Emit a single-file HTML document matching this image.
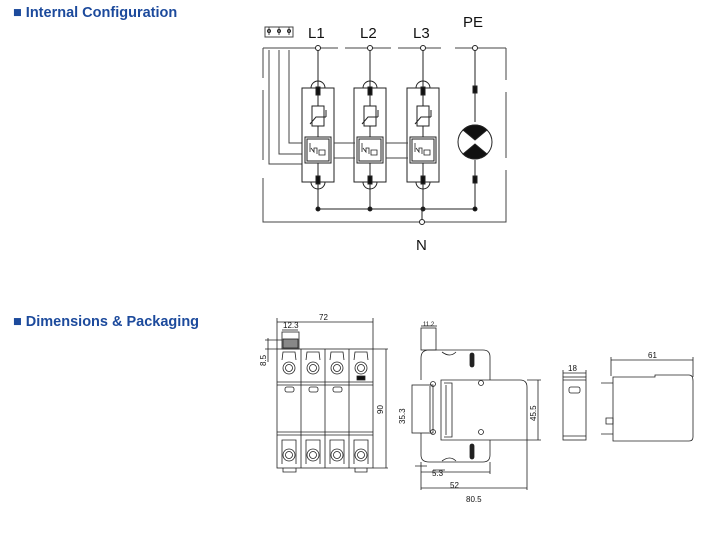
<!DOCTYPE html>
<html><head><meta charset="utf-8"><style>
html,body{margin:0;padding:0;background:#fff;}
body{width:719px;height:533px;position:relative;overflow:hidden;font-family:"Liberation Sans",sans-serif;}
.t{position:absolute;left:13px;font-weight:bold;font-size:14.5px;color:#1c4a9c;}
svg{position:absolute;left:0;top:0;}
</style></head><body>
<div class="t" style="top:5px">■ Internal Configuration</div>
<div class="t" style="top:314px">■ Dimensions &amp; Packaging</div>
<svg width="719" height="533" viewBox="0 0 719 533" fill="none" stroke="#222" stroke-width="1" font-family="Liberation Sans, sans-serif">
<g>
<text x="308" y="38" font-size="15" fill="#111" stroke="none">L1</text>
<text x="360" y="38" font-size="15" fill="#111" stroke="none">L2</text>
<text x="413" y="38" font-size="15" fill="#111" stroke="none">L3</text>
<text x="463" y="27" font-size="15" fill="#111" stroke="none">PE</text>
<text x="416" y="250" font-size="15" fill="#111" stroke="none">N</text>
<path d="M263 48H338M345 48H391M398 48H441M455 48H506" stroke="#444"/>
<path d="M263 48V78M263 90V160M263 178V222H506V170M506 158V92M506 80V48" stroke="#444"/>
<rect x="265" y="27" width="28" height="10" stroke="#444"/>
<path d="M269 50V164H302M279 50V154H305M289 50V143H305M269 35V27M279 35V27M289 35V27" stroke="#444"/>
<circle cx="269" cy="31" r="1.5"/><circle cx="279" cy="31" r="1.5"/><circle cx="289" cy="31" r="1.5"/>
<g id="m">
<path d="M318 48V88M318 182V209"/>
<circle cx="318" cy="48" r="2.5" fill="#fff"/>
<rect x="302" y="88" width="32" height="94" fill="#fff"/>
<path d="M311 88a7 7 0 0 1 14 0M311 182a7 7 0 0 0 14 0"/>
<rect x="316" y="87" width="4" height="8" fill="#111"/>
<rect x="316" y="176" width="4" height="8" fill="#111"/>
<path d="M318 95V106M318 126V137M318 163V176"/>
<rect x="312" y="106" width="12" height="20"/>
<path d="M310 124L316 117H326M326 117V110"/>
<rect x="305" y="137" width="26" height="26" fill="#fff"/>
<rect x="307" y="139" width="22" height="22"/>
<path d="M310 143V152M311 148L314 152V148H317V154M319 150H325V155H319Z" stroke-width="0.8"/>
<circle cx="318" cy="209" r="2" fill="#111"/>
</g>
<use href="#m" x="52"/>
<use href="#m" x="105"/>
<path d="M334 143H355M334 158H355M386 143H408M386 158H408" stroke="#444"/>
<path d="M318 209H475"/>
<circle cx="422" cy="222" r="2.5" fill="#fff"/>
<path d="M422 209V219"/>
<path d="M475 48V122M475 160V209"/>
<circle cx="475" cy="48" r="2.5" fill="#fff"/>
<rect x="473" y="86" width="4" height="7" fill="#111"/>
<rect x="473" y="176" width="4" height="7" fill="#111"/>
<circle cx="475" cy="142" r="17" fill="#fff"/>
<path d="M463 130L475 140L487 130A17 17 0 0 0 463 130Z" fill="#111"/>
<path d="M463 154L475 144L487 154A17 17 0 0 1 463 154Z" fill="#111"/>
<circle cx="475" cy="209" r="2" fill="#111"/>
</g>
<!-- front view -->
<g stroke-width="0.8" font-size="8">
<path d="M277 322H373M277 318V349M373 318V349"/>
<text x="319" y="320" fill="#111" stroke="none">72</text>
<path d="M282 330H298"/><text x="283" y="328" fill="#111" stroke="none">12.3</text>
<rect x="282" y="332" width="17" height="17"/>
<rect x="283" y="339" width="15" height="9" fill="#888"/>
<path d="M265 340H282M265 349H277M268 338V362"/>
<text x="266" y="366" fill="#111" stroke="none" transform="rotate(-90 266 366)">8.5</text>
<path d="M373 349H388M373 468H388M386 349V468"/>
<text x="383" y="414" fill="#111" stroke="none" transform="rotate(-90 383 414)">90</text>
<rect x="277" y="349" width="96" height="119"/>
<path d="M277 382H373M277 385H373M277 432H373M277 435H373M301 349V468M325 349V468M349 349V468"/>
<g id="tm">
<circle cx="289" cy="368" r="6"/><circle cx="289" cy="368" r="3.5"/>
<path d="M282 360L283 352H295L296 360"/>
<rect x="285" y="387" width="9" height="5" rx="2"/>
</g>
<use href="#tm" x="24"/><use href="#tm" x="48"/>
<g><circle cx="361" cy="368" r="6"/><circle cx="361" cy="368" r="3.5"/><path d="M354 360L355 352H367L368 360"/><rect x="357" y="376" width="8" height="4" fill="#111"/></g>
<g id="bm"><circle cx="289" cy="455" r="6"/><circle cx="289" cy="455" r="3.5"/><path d="M282 464V440H296V464"/></g>
<use href="#bm" x="24"/><use href="#bm" x="48"/><use href="#bm" x="72"/>
<path d="M283 468V472H296V468M355 468V472H367V468"/>
</g>
<!-- side view -->
<g stroke-width="0.8" font-size="8">
<rect x="421" y="328" width="15" height="22"/>
<path d="M421 326H437"/><text x="423" y="326" fill="#111" stroke="none" font-size="6">11.2</text>
<path d="M421 380V358Q421 350 429 350H483Q490 350 490 357V455Q490 462 483 462H429Q421 462 421 455V433"/>
<path d="M441 380H520Q527 380 527 387V440H441Z" fill="#fff"/>
<path d="M446 385V435M444 383H452V437H444"/>
<rect x="412" y="385" width="21" height="48"/>
<path d="M430 386V432"/>
<circle cx="433" cy="384" r="2.5"/><circle cx="433" cy="432" r="2.5"/>
<circle cx="481" cy="383" r="2.5"/><circle cx="481" cy="432" r="2.5"/>
<rect x="470" y="353" width="4" height="14" rx="2" fill="#222"/>
<rect x="470" y="444" width="4" height="15" rx="2" fill="#222"/>
<path d="M442 352Q450 358 456 352M442 461Q450 455 456 461"/>
<text x="405" y="424" fill="#111" stroke="none" transform="rotate(-90 405 424)">35.3</text>
<path d="M527 380H541M527 440H541M538 380V440"/>
<text x="536" y="421" fill="#111" stroke="none" transform="rotate(-90 536 421)">45.5</text>
<path d="M415 466H427M433 470H445"/><text x="432" y="476" fill="#111" stroke="none">5.3</text>
<path d="M421 462V490M490 462V474M421 472H490M527 440V490M421 488H527"/>
<text x="450" y="488" fill="#111" stroke="none">52</text>
<text x="466" y="502" fill="#111" stroke="none">80.5</text>
</g>
<!-- package -->
<g stroke-width="0.8" font-size="8">
<path d="M563 373H586M563 370V377M586 370V377"/>
<text x="568" y="371" fill="#111" stroke="none">18</text>
<rect x="563" y="377" width="23" height="63"/>
<path d="M563 380H586M563 436H586"/>
<rect x="569" y="387" width="11" height="6" rx="2"/>
<path d="M611 360H693M611 357V376M693 357V377"/>
<text x="648" y="358" fill="#111" stroke="none">61</text>
<path d="M613 377H655V375H689Q693 375 693 381V437Q693 441 689 441H613Z"/>
<path d="M601 383H613M601 434H613M606 418H613V424H606Z"/>
</g>
</svg>
</body></html>
